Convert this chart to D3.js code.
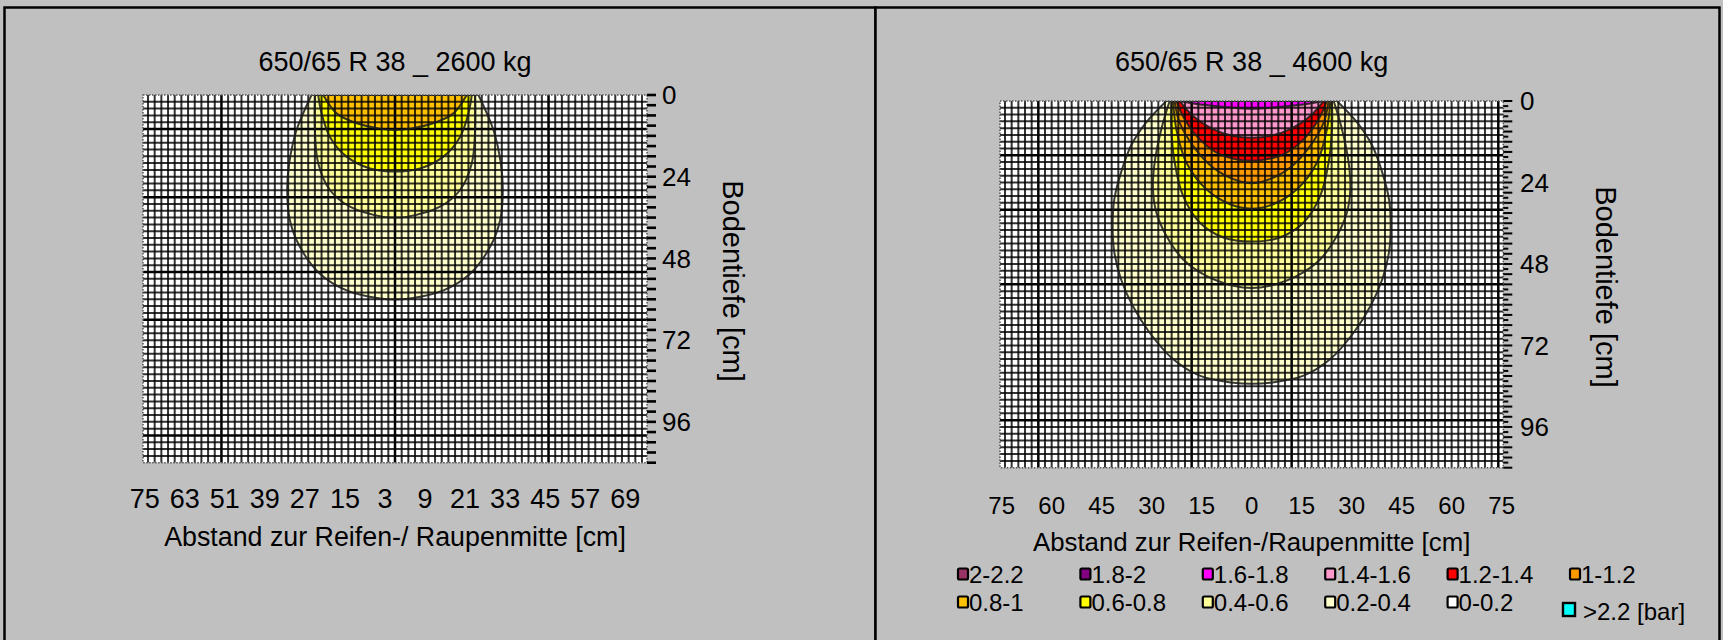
<!DOCTYPE html>
<html>
<head>
<meta charset="utf-8">
<script src="https://cdn.jsdelivr.net/npm/d3@7"></script>
<style>
  html, body { margin: 0; padding: 0; background: #c0c0c0; }
  svg { display: block; font-family: "Liberation Sans", Arial, sans-serif; }
</style>
</head>
<body>
<svg id="chart" width="1723" height="640"></svg>
<script>
// ---- pressure classes (bar) and their colours ----
const classNames  = ["2-2.2", "1.8-2", "1.6-1.8", "1.4-1.6", "1.2-1.4", "1-1.2",
                     "0.8-1", "0.6-0.8", "0.4-0.6", "0.2-0.4", "0-0.2"];
const classLower  = [2.0, 1.8, 1.6, 1.4, 1.2, 1.0, 0.8, 0.6, 0.4, 0.2, 0.0];
const classColors = ["#993366", "#800080", "#ff00ff", "#ff99cc", "#ff0000", "#ff9900",
                     "#ffc000", "#ffff00", "#ffff99", "#ffffcc", "#ffffff"];
const overLabel = ">2.2 [bar]";
const overColor = "#00ffff";

// ---- axis ticks ----
const xTicksLeft  = [-75, -63, -51, -39, -27, -15, -3, 9, 21, 33, 45, 57, 69];
const xTicksRight = [-75, -60, -45, -30, -15, 0, 15, 30, 45, 60, 75];
const yTicks = [0, 24, 48, 72, 96];

// ---- isobars: [depth cm, half-width cm] from surface to deepest point ----
// 650/65 R 38, 2600 kg
const leftIso02 = [[0, 25], [10.3, 29.5], [20.1, 31.7], [27.9, 32.3], [36.8, 31.5], [44.6, 28.5], [52.5, 22.5], [57.4, 14.5], [59.8, 4.5], [60.1, 0]];
const leftIso04 = [[0, 24], [10.3, 24], [20.1, 23], [27.9, 19.5], [32.8, 13.5], [35.8, 3.5], [36, 0]];
const leftIso06 = [[0, 23], [5.4, 22], [12.3, 19.5], [18.1, 14.5], [21.6, 7.5], [22.5, 0]];
const leftIso08 = [[0, 21.5], [5.4, 17.5], [8.3, 11.5], [9.8, 5], [10.3, 0]];
// 650/65 R 38, 4600 kg
const rightIso02 = [[0, 25.6], [6.4, 31.7], [13.2, 36.2], [21.1, 39.2], [28.9, 41.2], [36.8, 41.7], [44.6, 41.2], [52.5, 39.2], [60.3, 35.7], [68.1, 30.7], [76, 23.6], [80.9, 15.6], [83, 5.5], [83.3, 0]];
const rightIso04 = [[0, 24.6], [8.3, 27.1], [18.1, 29.1], [26, 29.6], [32.8, 28.6], [39.7, 25.6], [46.6, 20.6], [51.5, 13.6], [54.4, 5.5], [55.1, 0]];
const rightIso06 = [[0, 24.1], [8.3, 24.1], [18.1, 23.1], [27.9, 20.6], [35.8, 15.6], [40.2, 8.5], [41.4, 0]];
const rightIso08 = [[0, 23.6], [8.3, 22.6], [18.1, 19.6], [26, 13.6], [30.4, 6.5], [31.7, 0]];
const rightIso10 = [[0, 23.1], [6.4, 21.6], [13.2, 17.6], [19.6, 11.6], [23, 5.5], [24.2, 0]];
const rightIso12 = [[0, 22.6], [5.4, 20.1], [11.3, 15.6], [15.7, 9.5], [17.6, 0]];
const rightIso14 = [[0, 21.6], [4.4, 17.6], [8.3, 11.6], [10.3, 5.5], [10.8, 0]];
const rightIso16 = [[0, 22], [1.2, 14], [2.3, 0]];

// heavier lines of the background grid paper (cm), on the 2 cm raster
const majorGridXLeft  = [-52, 0, 46];
const majorGridYLeft  = [10, 30, 52, 66, 100];
const majorGridXRight = [-64, -18, 12, 74];
const majorGridYRight = [16, 32, 54, 94];

const svg = d3.select("#chart");

// outer frames
svg.append("rect").attr("x", 4.5).attr("y", 7.5).attr("width", 871).attr("height", 650)
  .attr("fill", "#c0c0c0").attr("stroke", "#000").attr("stroke-width", 2.5);
svg.append("rect").attr("x", 875.5).attr("y", 7.5).attr("width", 844).attr("height", 650)
  .attr("fill", "#c0c0c0").attr("stroke", "#000").attr("stroke-width", 2.5);

const defs = svg.append("defs");
defs.append("filter").attr("id", "soft").attr("x", "-5%").attr("y", "-5%").attr("width", "110%").attr("height", "110%")
  .append("feGaussianBlur").attr("stdDeviation", 0.7);

function drawPanel(cfg) {
  const x = d3.scaleLinear().domain([-75.5, 75.5]).range([cfg.left, cfg.right]);
  const y = d3.scaleLinear().domain([0, 108]).range([cfg.top, cfg.bottom]);
  const g = svg.append("g");

  const clipId = "clip" + cfg.id;
  defs.append("clipPath").attr("id", clipId).append("rect")
    .attr("x", cfg.left).attr("y", cfg.top)
    .attr("width", cfg.right - cfg.left).attr("height", cfg.bottom - cfg.top);

  // plot background
  g.append("rect").attr("x", cfg.left).attr("y", cfg.top)
    .attr("width", cfg.right - cfg.left).attr("height", cfg.bottom - cfg.top)
    .attr("fill", "#ffffff");

  const plot = g.append("g").attr("clip-path", `url(#${clipId})`);

  // isobar fills, outermost first
  const line = d3.line()
    .x(p => x(p[0])).y(p => y(p[1]))
    .curve(d3.curveCatmullRom.alpha(0.5));
  const outline = prof => {
    const leftSide = prof.map(([d, h]) => [-h, d]);
    const rightSide = prof.slice(0, -1).reverse().map(([d, h]) => [h, d]);
    return line(leftSide.concat(rightSide)) + "Z";
  };
  cfg.isobars.forEach(iso => {
    const idx = classLower.indexOf(iso.level);
    plot.append("path").attr("d", outline(iso.profile))
      .attr("fill", classColors[idx]).attr("stroke", "none");
  });

  // grid paper
  const grid = plot.append("g").attr("filter", "url(#soft)");
  const isMajorX = v => cfg.majorX.includes(v);
  const isMajorY = v => cfg.majorY.includes(v);
  d3.range(-74, 76, 2).forEach(v => {
    grid.append("line").attr("x1", x(v)).attr("x2", x(v)).attr("y1", cfg.top).attr("y2", cfg.bottom)
      .attr("stroke", "#000").attr("stroke-opacity", isMajorX(v) ? 1 : 0.8)
      .attr("stroke-width", isMajorX(v) ? 2.5 : 2);
  });
  d3.range(2, 108, 2).forEach(v => {
    grid.append("line").attr("y1", y(v)).attr("y2", y(v)).attr("x1", cfg.left).attr("x2", cfg.right)
      .attr("stroke", "#000").attr("stroke-opacity", isMajorY(v) ? 1 : 0.8)
      .attr("stroke-width", isMajorY(v) ? 2.5 : 2);
  });

  // isobar outlines
  cfg.isobars.forEach(iso => {
    plot.append("path").attr("d", outline(iso.profile))
      .attr("fill", "none").attr("stroke", "#1a1a1a").attr("stroke-opacity", 0.85).attr("stroke-width", 2);
  });

  // dotted plot border
  g.append("rect").attr("x", cfg.left).attr("y", cfg.top)
    .attr("width", cfg.right - cfg.left).attr("height", cfg.bottom - cfg.top)
    .attr("fill", "none").attr("stroke", "#555").attr("stroke-width", 1.5)
    .attr("stroke-dasharray", "1.5 1.5");

  // depth ticks on the right side
  d3.range(0, 108.1, cfg.tickStep).forEach(v => {
    const major = Math.abs(v % 3) < 1e-6;
    g.append("line").attr("x1", cfg.right).attr("x2", cfg.right + (major ? 9 : 5))
      .attr("y1", y(v)).attr("y2", y(v))
      .attr("stroke", "#000").attr("stroke-width", cfg.tickWidth);
  });

  // depth tick labels
  g.selectAll(null).data(yTicks).enter().append("text")
    .attr("x", cfg.yLabelX).attr("y", d => y(d)).attr("dy", "0.36em")
    .attr("font-size", 26).attr("fill", "#000").text(d => d);

  // distance tick labels
  g.selectAll(null).data(cfg.xTicks).enter().append("text")
    .attr("x", d => x(d)).attr("y", cfg.xLabelY).attr("text-anchor", "middle")
    .attr("font-size", cfg.xLabelSize).attr("fill", "#000").text(d => Math.abs(d));

  // titles
  g.append("text").attr("x", x(0)).attr("y", 71).attr("text-anchor", "middle")
    .attr("font-size", 27).attr("fill", "#000").text(cfg.title);
  g.append("text").attr("x", x(0)).attr("y", cfg.xTitleY).attr("text-anchor", "middle")
    .attr("font-size", cfg.xTitleSize).attr("fill", "#000").text(cfg.xTitle);
  g.append("text")
    .attr("transform", `translate(${cfg.yTitleX},${cfg.yTitleY}) rotate(90)`)
    .attr("text-anchor", "middle").attr("font-size", 29).attr("fill", "#000")
    .text("Bodentiefe [cm]");
  return { x, y };
}

drawPanel({
  id: "L", left: 143, right: 647, top: 95, bottom: 462.7,
  title: "650/65 R 38 _ 2600 kg",
  xTitle: "Abstand zur Reifen-/ Raupenmitte [cm]",
  xTicks: xTicksLeft, xLabelY: 508, xLabelSize: 27,
  xTitleY: 546, xTitleSize: 26.8,
  yLabelX: 662, yTitleX: 723, yTitleY: 281,
  tickStep: 3, tickWidth: 2.6,
  majorX: majorGridXLeft, majorY: majorGridYLeft,
  isobars: [
    { level: 0.2, profile: leftIso02 },
    { level: 0.4, profile: leftIso04 },
    { level: 0.6, profile: leftIso06 },
    { level: 0.8, profile: leftIso08 }
  ]
});

drawPanel({
  id: "R", left: 1000, right: 1503.3, top: 101, bottom: 467.7,
  title: "650/65 R 38 _ 4600 kg",
  xTitle: "Abstand zur Reifen-/Raupenmitte [cm]",
  xTicks: xTicksRight, xLabelY: 514, xLabelSize: 24,
  xTitleY: 551, xTitleSize: 25.8,
  yLabelX: 1520, yTitleX: 1596, yTitleY: 287,
  tickStep: 1.5, tickWidth: 2,
  majorX: majorGridXRight, majorY: majorGridYRight,
  isobars: [
    { level: 0.2, profile: rightIso02 },
    { level: 0.4, profile: rightIso04 },
    { level: 0.6, profile: rightIso06 },
    { level: 0.8, profile: rightIso08 },
    { level: 1.0, profile: rightIso10 },
    { level: 1.2, profile: rightIso12 },
    { level: 1.4, profile: rightIso14 },
    { level: 1.6, profile: rightIso16 }
  ]
});

// legend: six columns, two rows
const legendCol = d3.scaleLinear().domain([0, 5]).range([958, 1570]);
const legendRow = d3.scaleLinear().domain([0, 1]).range([574, 602]);
const legend = svg.append("g");
classNames.forEach((name, i) => {
  const col = i % 6, row = Math.floor(i / 6);
  const lx = legendCol(col), ly = legendRow(row);
  legend.append("rect").attr("x", lx).attr("y", ly - 5.5).attr("width", 10).attr("height", 11)
    .attr("rx", 1.5).attr("fill", classColors[i]).attr("stroke", "#000").attr("stroke-width", 2.2);
  legend.append("text").attr("x", lx + 11).attr("y", ly).attr("dy", "0.36em")
    .attr("font-size", 24).attr("fill", "#000").text(name);
});
legend.append("rect").attr("x", 1563).attr("y", 603).attr("width", 12).attr("height", 13)
  .attr("fill", overColor).attr("stroke", "#000").attr("stroke-width", 2.4);
legend.append("text").attr("x", 1583).attr("y", 611).attr("dy", "0.36em")
  .attr("font-size", 24).attr("fill", "#000").text(overLabel);
</script>
</body>
</html>
